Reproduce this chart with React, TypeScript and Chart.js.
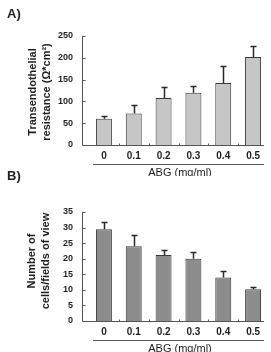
import React, { useEffect, useRef } from "react";
import { Chart, registerables } from "chart.js";
Chart.register(...registerables);

const categories = ["0", "0.1", "0.2", "0.3", "0.4", "0.5"];
const resistance = [60, 72, 108, 120, 142, 202];
const resistanceErr = [6, 19, 24, 15, 40, 26];
const cellCounts = [29.5, 24, 21.2, 20, 14, 10.2];
const cellErr = [2.4, 3.6, 1.6, 2, 2, 0.8];
const resistanceMax = 250;
const resistanceStep = 50;
const cellMax = 35;
const cellStep = 5;
const xTitle = "ABG (mg/ml)";
const titleA = ["Transendothelial", "resistance (Ω*cm²)"];
const titleB = ["Number of", "cells/fields of view"];

const FONT = "'Liberation Sans', Arial, sans-serif";
const TEXT = "#1e1e1e";
const AXIS = "#555";

const decorPlugin = {
  id: "decor",
  afterDatasetsDraw(chart: any, _args: any, opts: any) {
    const ctx = chart.ctx;
    const xs = chart.scales.x;
    const ys = chart.scales.y;
    const data = chart.data.datasets[0].data as number[];
    ctx.save();
    // error bars
    ctx.strokeStyle = "#2a2a2a";
    ctx.lineWidth = 1.5;
    (opts.errors as number[]).forEach((e, i) => {
      const cx = Math.round(xs.getPixelForValue(i)) + 0.5;
      const y0 = ys.getPixelForValue(data[i]);
      const y1 = Math.round(ys.getPixelForValue(data[i] + e)) + 0.5;
      ctx.beginPath();
      ctx.moveTo(cx, y0);
      ctx.lineTo(cx, y1);
      ctx.moveTo(cx - 3, y1);
      ctx.lineTo(cx + 3, y1);
      ctx.stroke();
    });
    // axes
    const ax = opts.axisX + 0.5;
    const bottom = Math.round(ys.bottom) + 0.5;
    ctx.strokeStyle = AXIS;
    ctx.lineWidth = 1;
    ctx.beginPath();
    ctx.moveTo(ax, ys.top);
    ctx.lineTo(ax, bottom);
    ctx.lineTo(opts.axisRight, bottom);
    ys.ticks.forEach((t: any) => {
      const py = Math.round(ys.getPixelForValue(t.value)) + 0.5;
      ctx.moveTo(ax, py);
      ctx.lineTo(ax + 3, py);
    });
    for (let i = 1; i < data.length; i++) {
      const bx = Math.round((xs.getPixelForValue(i - 1) + xs.getPixelForValue(i)) / 2) + 0.5;
      ctx.moveTo(bx, bottom - 2);
      ctx.lineTo(bx, bottom);
    }
    // underline beneath category labels
    ctx.moveTo(opts.underlineLeft, opts.underlineY + 0.5);
    ctx.lineTo(opts.axisRight, opts.underlineY + 0.5);
    ctx.stroke();
    // x title
    ctx.fillStyle = TEXT;
    ctx.font = `11px ${FONT}`;
    ctx.textAlign = "center";
    ctx.textBaseline = "middle";
    ctx.fillText(opts.xTitle, opts.xTitleX, opts.xTitleY);
    // y title
    ctx.font = `bold 11px ${FONT}`;
    (opts.yTitle as string[]).forEach((line, i) => {
      ctx.save();
      ctx.translate(opts.yTitleXs[i], opts.yTitleY);
      ctx.rotate(-Math.PI / 2);
      ctx.fillText(line, 0, 0);
      ctx.restore();
    });
    ctx.restore();
  },
};

function makeConfig(values: number[], errors: number[], max: number, step: number, color: string, yTitle: string[], yTitleXs: number[], yTitleY: number) {
  return {
    type: "bar" as const,
    data: {
      labels: categories,
      datasets: [
        {
          data: values,
          backgroundColor: color,
          borderColor: "#3a3a3a",
          borderWidth: 1,
          categoryPercentage: 1,
          barPercentage: 0.535,
        },
      ],
    },
    options: {
      animation: false as const,
      responsive: false,
      maintainAspectRatio: false,
      layout: { padding: { top: 36, right: 3, left: 0, bottom: 0 } },
      plugins: {
        legend: { display: false },
        tooltip: { enabled: false },
        decor: {
          errors,
          axisX: 82,
          axisRight: 264,
          underlineLeft: 93,
          underlineY: 164,
          xTitle,
          xTitleX: 180,
          xTitleY: 173,
          yTitle,
          yTitleXs,
          yTitleY,
        },
      },
      scales: {
        x: {
          type: "category" as const,
          offset: true,
          grid: { display: false, drawTicks: false },
          border: { display: false },
          ticks: { padding: 5, color: TEXT, font: { family: FONT, size: 10, weight: "bold" as const } },
          afterFit: (s: any) => {
            s.height = 31;
          },
        },
        y: {
          min: 0,
          max,
          grid: { display: false, drawTicks: false },
          border: { display: false },
          ticks: { stepSize: step, padding: 16, color: TEXT, font: { family: FONT, size: 9, weight: "bold" as const } },
          afterFit: (s: any) => {
            s.width = 89;
          },
        },
      },
    },
    plugins: [decorPlugin],
  };
}

function BarPanel(props: { config: any; top: number }) {
  const ref = useRef<HTMLCanvasElement>(null);
  useEffect(() => {
    const chart = new Chart(ref.current as HTMLCanvasElement, props.config);
    return () => chart.destroy();
  }, []);
  return (
    <canvas
      ref={ref}
      width={271}
      height={176}
      style={{ position: "absolute", left: 0, top: props.top, width: 271, height: 176 }}
    />
  );
}

const labelStyle: React.CSSProperties = {
  position: "absolute",
  left: 7,
  font: `bold 13px ${FONT}`,
  lineHeight: "13px",
  color: TEXT,
};

export default function App() {
  const configA = makeConfig(resistance, resistanceErr, resistanceMax, resistanceStep, "#c6c6c6", titleA, [33, 47], 92);
  const configB = makeConfig(cellCounts, cellErr, cellMax, cellStep, "#8c8c8c", titleB, [32, 46], 85);
  return (
    <div style={{ position: "absolute", left: 0, top: 0, width: 271, height: 352, background: "#fff", overflow: "hidden" }}>
      <BarPanel config={configA} top={0} />
      <BarPanel config={configB} top={176} />
      <div style={{ ...labelStyle, top: 7 }}>A)</div>
      <div style={{ ...labelStyle, top: 169 }}>B)</div>
    </div>
  );
}
